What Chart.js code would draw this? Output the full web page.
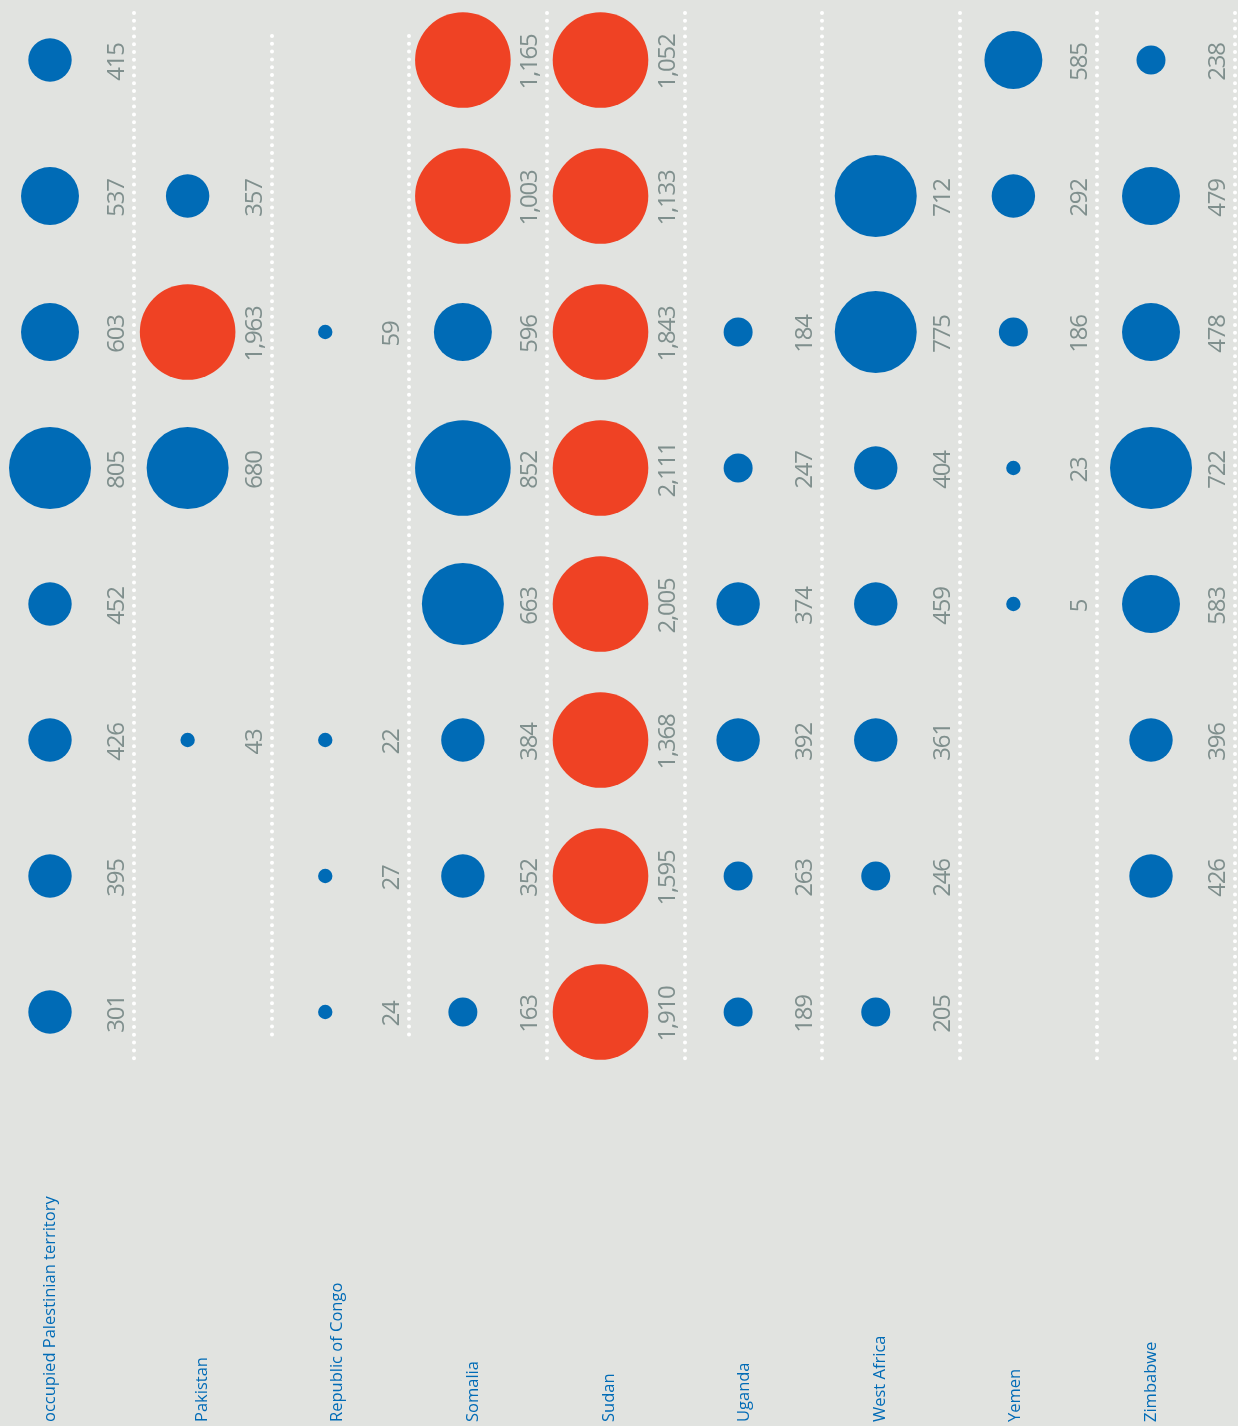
<!DOCTYPE html>
<html>
<head>
<meta charset="utf-8">
<script src="https://cdn.jsdelivr.net/npm/chart.js@4.4.1/dist/chart.umd.min.js"></script>
<style>
  html, body { margin: 0; padding: 0; background: #e1e3e0; }
  canvas { display: block; }
</style>
</head>
<body>
<canvas id="bubbleChart" width="1238" height="1426"></canvas>
<script>
const countries = ['occupied Palestinian territory', 'Pakistan', 'Republic of Congo', 'Somalia', 'Sudan', 'Uganda', 'West Africa', 'Yemen', 'Zimbabwe'];

// values per country, rows from top to bottom; null = no circle
const palestine = [415, 537, 603, 805, 452, 426, 395, 301];
const pakistan  = [null, 357, 1963, 680, null, 43, null, null];
const congo     = [null, null, 59, null, null, 22, 27, 24];
const somalia   = [1165, 1003, 596, 852, 663, 384, 352, 163];
const sudan     = [1052, 1133, 1843, 2111, 2005, 1368, 1595, 1910];
const uganda    = [null, null, 184, 247, 374, 392, 263, 189];
const westAfrica = [null, 712, 775, 404, 459, 361, 246, 205];
const yemen     = [585, 292, 186, 23, 5, null, null, null];
const zimbabwe  = [238, 479, 478, 722, 583, 396, 426, null];

const series = [palestine, pakistan, congo, somalia, sudan, uganda, westAfrica, yemen, zimbabwe];

const BLUE = '#006bb6';
const RED = '#ef4224';
const GREY = '#7f8f8d';

// circles come in a few fixed size classes
function sizeFor(v) {
    if (v < 100) return 7.2;
    if (v < 275) return 14.5;
    if (v < 470) return 21.7;
    if (v < 650) return 29;
    if (v < 830) return 41;
    return 47.8;
}

const points = [];
series.forEach((vals, col) => {
    vals.forEach((v, row) => {
        if (v === null) return;
        points.push({ x: col, y: row, r: sizeFor(v), v: v });
    });
});

const shortRules = [1, 2];

const decorations = {
    id: 'decorations',
    beforeDatasetsDraw(chart) {
        const { ctx, scales: { x, y } } = chart;
        ctx.save();
        ctx.strokeStyle = '#ffffff';
        ctx.lineWidth = 4;
        ctx.lineCap = 'round';
        ctx.setLineDash([0, 7.8]);
        for (let i = 0; i < countries.length; i++) {
            const px = Math.round(x.getPixelForValue(i) + 84);
            const ext = shortRules.includes(i) ? 24 : 47;
            ctx.beginPath();
            ctx.moveTo(px, y.getPixelForValue(0) - ext);
            ctx.lineTo(px, y.getPixelForValue(7) + ext);
            ctx.stroke();
        }
        ctx.restore();
    },
    afterDatasetsDraw(chart) {
        const { ctx, scales: { x, y } } = chart;
        ctx.save();
        // value labels
        ctx.fillStyle = GREY;
        ctx.font = '24px "Open Sans"';
        ctx.letterSpacing = '-1.2px';
        ctx.textAlign = 'center';
        ctx.textBaseline = 'alphabetic';
        points.forEach(p => {
            ctx.save();
            ctx.translate(x.getPixelForValue(p.x) + 74, y.getPixelForValue(p.y) + 2);
            ctx.rotate(-Math.PI / 2);
            ctx.fillText(p.v.toLocaleString('en-US'), 0, 0);
            ctx.restore();
        });
        // country names
        ctx.fillStyle = BLUE;
        ctx.font = '16.5px "Open Sans"';
        ctx.letterSpacing = '0px';
        ctx.textAlign = 'left';
        countries.forEach((name, i) => {
            const off = i === 0 ? 5 : 21 - 2 * i;
            ctx.save();
            ctx.translate(x.getPixelForValue(i) + off, 1422);
            ctx.rotate(-Math.PI / 2);
            ctx.fillText(name, 0, 0);
            ctx.restore();
        });
        ctx.restore();
    }
};

const colStep = (1151 - 50) / 8;
const rowStep = 136;

new Chart(document.getElementById('bubbleChart'), {
    type: 'bubble',
    data: {
        datasets: [{
            data: points,
            backgroundColor: points.map(p => p.v >= 1000 ? RED : BLUE),
            borderWidth: 0,
            hoverBorderWidth: 0
        }]
    },
    options: {
        responsive: false,
        animation: false,
        events: [],
        layout: { padding: 0, autoPadding: false },
        plugins: { legend: { display: false }, tooltip: { enabled: false } },
        scales: {
            x: { type: 'linear', display: false, min: -50 / colStep, max: 8 + (1238 - 1151) / colStep },
            y: { type: 'linear', display: false, reverse: true, min: -60 / rowStep, max: (1426 - 60) / rowStep }
        }
    },
    plugins: [decorations]
});
</script>
</body>
</html>
